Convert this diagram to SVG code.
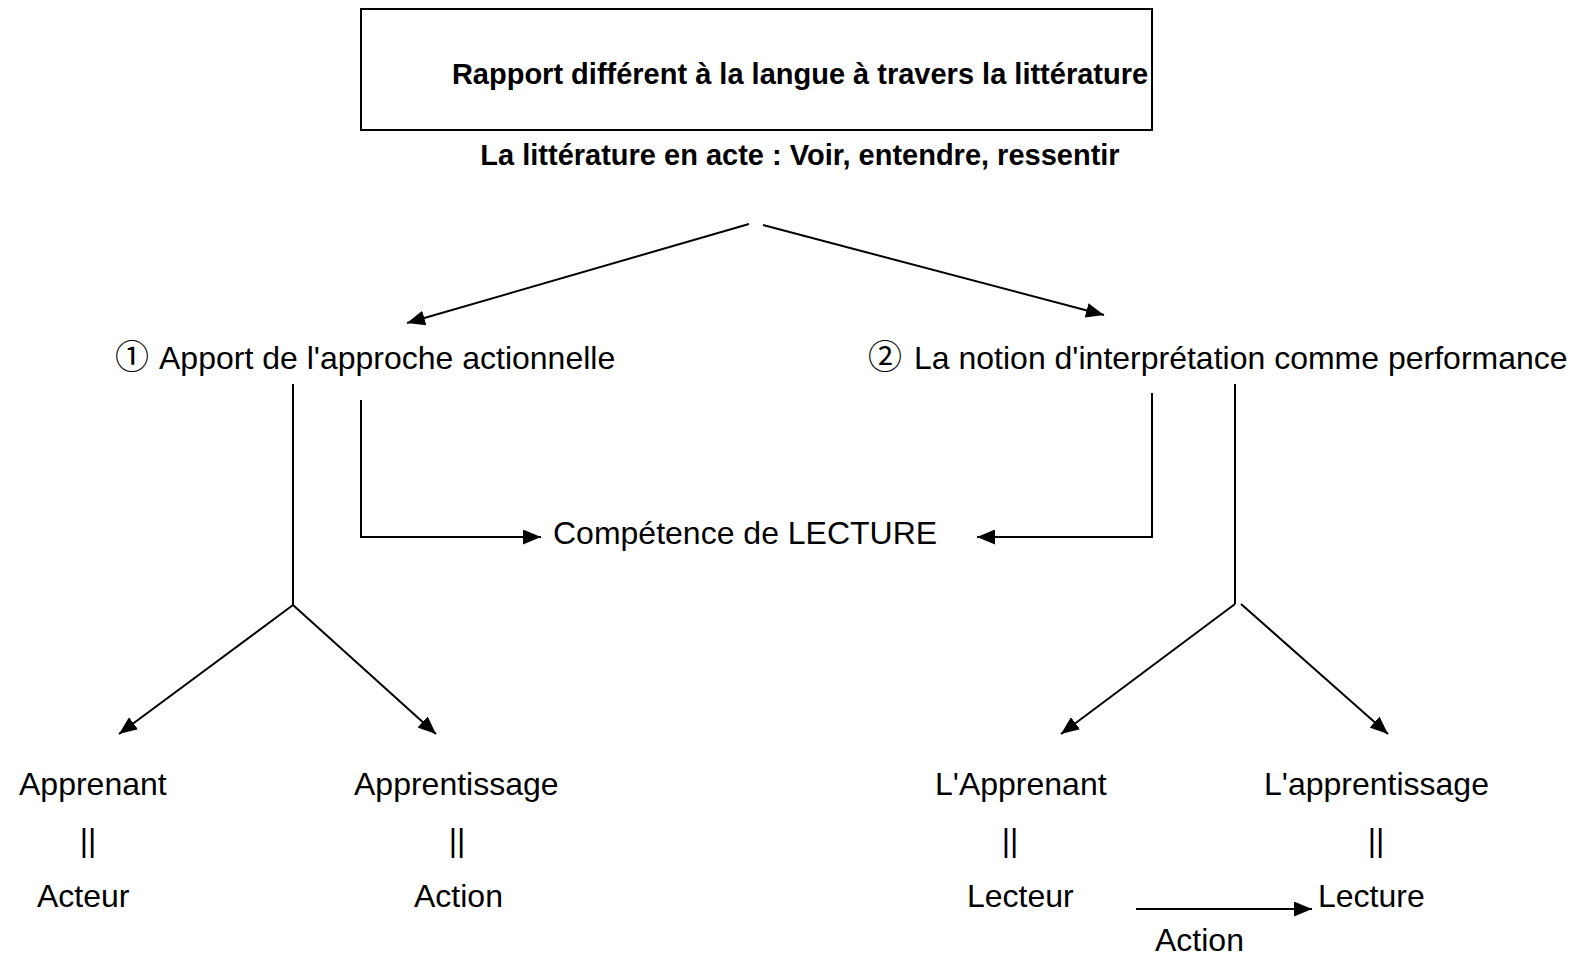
<svg xmlns="http://www.w3.org/2000/svg" width="1578" height="958" viewBox="0 0 1578 958">
<style>
text{font-family:"Liberation Sans",Arial,"Noto Sans CJK JP",sans-serif;fill:#000;font-size:32px}
.b{font-weight:bold;font-size:29px}
.c{font-family:"Noto Sans CJK JP","DejaVu Sans",sans-serif;font-size:34px}
.ln{fill:none;stroke:#000;stroke-width:2}
</style>
<defs>
<marker id="ah" markerUnits="userSpaceOnUse" markerWidth="19" markerHeight="15" refX="18" refY="7.5" orient="auto">
<path d="M0,0 L18,7.5 L0,15 z" fill="#000"/>
</marker>
</defs>
<rect width="1578" height="958" fill="#fff"/>
<g id="title">
<rect x="361" y="9" width="791" height="121" fill="none" stroke="#000" stroke-width="2"/>
<text class="b" x="800" y="84" text-anchor="middle">Rapport différent à la langue à travers la littérature</text>
</g>
<g id="subtitle">
<text class="b" x="800" y="165" text-anchor="middle">La littérature en acte : Voir, entendre, ressentir</text>
</g>
<g id="n1">
<text x="115" y="369"><tspan class="c">①</tspan><tspan x="159">Apport de l'approche actionnelle</tspan></text>
</g>
<g id="n2">
<text x="868" y="369"><tspan class="c">②</tspan><tspan x="914">La notion d'interprétation comme performance</tspan></text>
</g>
<g id="competence">
<text x="553" y="544">Compétence de LECTURE</text>
</g>
<g id="left-a">
<text x="19" y="795">Apprenant</text>
<text x="88" y="851" text-anchor="middle">||</text>
<text x="37" y="907">Acteur</text>
</g>
<g id="left-b">
<text x="354" y="795">Apprentissage</text>
<text x="457" y="851" text-anchor="middle">||</text>
<text x="414" y="907">Action</text>
</g>
<g id="right-a">
<text x="935" y="795">L'Apprenant</text>
<text x="1010" y="851" text-anchor="middle">||</text>
<text x="967" y="907">Lecteur</text>
</g>
<g id="right-b">
<text x="1264" y="795">L'apprentissage</text>
<text x="1376" y="851" text-anchor="middle">||</text>
<text x="1318" y="907">Lecture</text>
</g>
<g id="action-label">
<text x="1155" y="951">Action</text>
</g>
<g id="connectors">
<line class="ln" x1="749" y1="224" x2="407" y2="323" marker-end="url(#ah)"/>
<line class="ln" x1="763" y1="225" x2="1104" y2="315" marker-end="url(#ah)"/>
<polyline class="ln" points="293,384 293,605"/>
<line class="ln" x1="293" y1="605" x2="119" y2="734" marker-end="url(#ah)"/>
<line class="ln" x1="293" y1="605" x2="436" y2="734" marker-end="url(#ah)"/>
<polyline class="ln" points="361,400 361,537 541,537" marker-end="url(#ah)"/>
<polyline class="ln" points="1152,393 1152,537 977,537" marker-end="url(#ah)"/>
<polyline class="ln" points="1235,384 1235,604"/>
<line class="ln" x1="1235" y1="604" x2="1061" y2="734" marker-end="url(#ah)"/>
<line class="ln" x1="1241" y1="604" x2="1388" y2="734" marker-end="url(#ah)"/>
<line class="ln" x1="1136" y1="909" x2="1312" y2="909" marker-end="url(#ah)"/>
</g>
</svg>
